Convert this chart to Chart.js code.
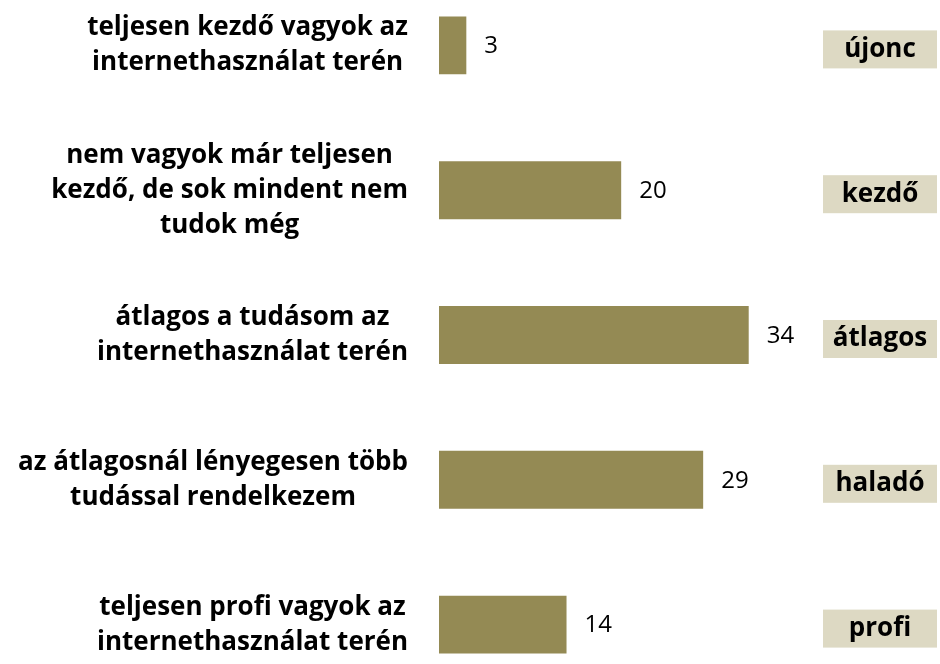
<!DOCTYPE html>
<html>
<head>
<meta charset="utf-8">
<script src="https://cdn.jsdelivr.net/npm/chart.js@4/dist/chart.umd.min.js"></script>
<style>
  html, body { margin: 0; padding: 0; background: #fff; overflow: hidden; }
  #wrap { position: absolute; left: 0; top: -27px; width: 940px; height: 724px; }
</style>
</head>
<body>
<div id="wrap"><canvas id="chart"></canvas></div>
<script>
// kategóriák (többsoros címkék)
const categories = [
  ['teljesen kezdő vagyok az', 'internethasználat terén'],
  ['nem vagyok már teljesen', 'kezdő, de sok mindent nem', 'tudok még'],
  ['átlagos a tudásom az', 'internethasználat terén'],
  ['az átlagosnál lényegesen több', 'tudással rendelkezem'],
  ['teljesen profi vagyok az', 'internethasználat terén']
];
const values = [3, 20, 34, 29, 14];
const levels = ['újonc', 'kezdő', 'átlagos', 'haladó', 'profi'];

const extras = {
    id: 'extras',
    afterDatasetsDraw(chart) {
        const ctx = chart.ctx;
        const y = chart.scales.y;
        const area = chart.chartArea;
        const meta = chart.getDatasetMeta(0);
        ctx.save();
        ctx.textBaseline = 'middle';
        ctx.fillStyle = '#000';

        // kategória címkék: középre zárt blokk, jobb széle a sávok előtt
        ctx.font = 'bold 26px "Open Sans", sans-serif';
        ctx.textAlign = 'center';
        categories.forEach(function(lines, i) {
            const cy = y.getPixelForValue(i);
            const lh = 35;
            const widest = Math.max.apply(null, lines.map(function(l) { return ctx.measureText(l).width; }));
            const cx = area.left - 31 - widest / 2;
            const start = cy - (lines.length - 1) * lh / 2;
            lines.forEach(function(line, j) {
                ctx.fillText(line, cx, start + j * lh);
            });
        });

        // értékek a sávok mellett
        ctx.font = '24px "Open Sans", sans-serif';
        ctx.textAlign = 'left';
        meta.data.forEach(function(bar, i) {
            ctx.fillText(values[i], bar.x + 18, bar.y + 1);
        });

        // szint dobozok
        ctx.font = 'bold 26px "Open Sans", sans-serif';
        ctx.textAlign = 'center';
        levels.forEach(function(txt, i) {
            const cy = y.getPixelForValue(i) + 4;
            ctx.fillStyle = '#ddd9c3';
            ctx.fillRect(823, cy - 19, 114, 38);
            ctx.fillStyle = '#000';
            ctx.fillText(txt, 880, cy);
        });
        ctx.restore();
    }
};

new Chart(document.getElementById('chart'), {
    type: 'bar',
    data: {
        labels: categories,
        datasets: [{
            data: values,
            backgroundColor: '#948a54',
            borderWidth: 0,
            categoryPercentage: 1,
            barPercentage: 0.4
        }]
    },
    options: {
        indexAxis: 'y',
        responsive: true,
        maintainAspectRatio: false,
        animation: false,
        layout: { padding: { left: 439, right: 0, top: 0, bottom: 0 } },
        scales: {
            x: { display: false, min: 0, max: 55 },
            y: { display: false }
        },
        plugins: {
            legend: { display: false },
            tooltip: { enabled: false }
        }
    },
    plugins: [extras]
});
</script>
</body>
</html>
